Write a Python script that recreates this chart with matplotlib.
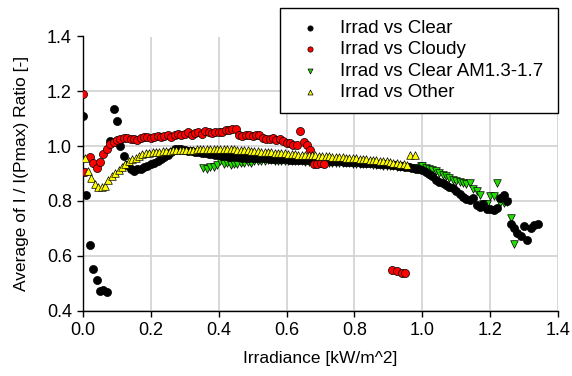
import matplotlib
matplotlib.use("Agg")
import matplotlib.pyplot as plt

plt.rcParams['font.family'] = ['Liberation Sans', 'DejaVu Sans']

# ---- data ----
clear_x = [0.00, 0.01, 0.02, 0.03, 0.04, 0.05, 0.06, 0.07, 0.08, 0.09, 0.10, 0.11, 0.12, 0.13, 0.14,
           0.15, 0.16, 0.17, 0.18, 0.19, 0.20, 0.21, 0.22, 0.23, 0.24, 0.25, 0.26, 0.27, 0.28, 0.29,
           0.30, 0.31, 0.32, 0.33, 0.34, 0.35, 0.36, 0.37, 0.38, 0.39, 0.40, 0.41, 0.42, 0.43, 0.44,
           0.45, 0.46, 0.47, 0.48, 0.49, 0.50, 0.51, 0.52, 0.53, 0.54, 0.55, 0.56, 0.57, 0.58, 0.59,
           0.60, 0.61, 0.62, 0.63, 0.64, 0.65, 0.66, 0.67, 0.68, 0.69, 0.70, 0.71, 0.72, 0.73, 0.74,
           0.75, 0.76, 0.77, 0.78, 0.79, 0.80, 0.81, 0.82, 0.83, 0.84, 0.85, 0.86, 0.87, 0.88, 0.89,
           0.90, 0.91, 0.92, 0.93, 0.94, 0.95, 0.96, 0.97, 0.98, 0.99, 1.00, 1.01, 1.02, 1.03, 1.04,
           1.05, 1.06, 1.07, 1.08, 1.09, 1.10, 1.11, 1.12, 1.13, 1.14, 1.15, 1.16, 1.17, 1.18, 1.19,
           1.20, 1.21, 1.22, 1.23, 1.24, 1.25, 1.26, 1.27, 1.28, 1.29, 1.30, 1.31, 1.32, 1.33, 1.34]
clear_y = [1.110, 0.820, 0.640, 0.550, 0.510, 0.470, 0.475, 0.468, 1.020, 1.135, 1.090, 1.000, 0.965, 0.930, 0.915,
           0.910, 0.915, 0.918, 0.922, 0.928, 0.933, 0.940, 0.945, 0.952, 0.960, 0.968, 0.978, 0.988, 0.990, 0.988,
           0.985, 0.983, 0.982, 0.980, 0.978, 0.976, 0.974, 0.972, 0.970, 0.968, 0.966, 0.965, 0.963, 0.962, 0.961,
           0.960, 0.959, 0.958, 0.958, 0.957, 0.957, 0.956, 0.956, 0.955, 0.955, 0.954, 0.954, 0.953, 0.953, 0.952,
           0.952, 0.951, 0.951, 0.950, 0.950, 0.949, 0.949, 0.948, 0.948, 0.947, 0.947, 0.946, 0.946, 0.945, 0.945,
           0.944, 0.944, 0.943, 0.943, 0.942, 0.942, 0.941, 0.940, 0.940, 0.939, 0.938, 0.937, 0.936, 0.935, 0.934,
           0.933, 0.932, 0.930, 0.929, 0.927, 0.925, 0.923, 0.921, 0.918, 0.915, 0.912, 0.906, 0.899, 0.890, 0.878,
           0.870, 0.864, 0.858, 0.852, 0.848, 0.835, 0.825, 0.813, 0.808, 0.803, 0.810, 0.785, 0.778, 0.790, 0.772,
           0.770, 0.765, 0.775, 0.810, 0.820, 0.800, 0.715, 0.700, 0.684, 0.672, 0.709, 0.656, 0.700, 0.712, 0.716]

cloudy_x = [0.000, 0.005, 0.02, 0.03, 0.04, 0.05, 0.06, 0.07, 0.08, 0.09, 0.10, 0.11, 0.12, 0.13, 0.14,
            0.15, 0.16, 0.17, 0.18, 0.19, 0.20, 0.21, 0.22, 0.23, 0.24, 0.25, 0.26, 0.27, 0.28, 0.29,
            0.30, 0.31, 0.32, 0.33, 0.34, 0.35, 0.36, 0.37, 0.38, 0.39, 0.40, 0.41, 0.42, 0.43, 0.44,
            0.45, 0.46, 0.47, 0.48, 0.49, 0.50, 0.51, 0.52, 0.53, 0.54, 0.55, 0.56, 0.57, 0.58, 0.59,
            0.60, 0.61, 0.62, 0.63, 0.64, 0.65, 0.66, 0.67, 0.68, 0.69, 0.70, 0.71,
            0.91, 0.925, 0.94, 0.95]
cloudy_y = [1.190, 0.905, 0.962, 0.938, 0.921, 0.941, 0.970, 0.990, 1.006, 1.015, 1.021, 1.025, 1.028, 1.030, 1.027,
            1.025, 1.022, 1.030, 1.033, 1.035, 1.030, 1.033, 1.036, 1.033, 1.038, 1.040, 1.035, 1.040, 1.045, 1.040,
            1.045, 1.050, 1.042, 1.048, 1.050, 1.045, 1.055, 1.050, 1.048, 1.050, 1.052, 1.050, 1.058, 1.060, 1.062,
            1.062, 1.040, 1.038, 1.040, 1.040, 1.038, 1.042, 1.040, 1.030, 1.027, 1.025, 1.030, 1.021, 1.025, 1.018,
            1.012, 1.010, 1.005, 1.003, 1.054, 1.015, 1.003, 0.984, 0.935, 0.935, 0.938, 0.935,
            0.548, 0.544, 0.538, 0.538]

am_x = [0.355, 0.365, 0.375, 0.385, 0.395, 0.405, 0.415, 0.425, 0.435, 0.445, 0.455, 0.465, 0.475, 0.485, 0.495,
        0.505, 0.515, 0.525, 0.535, 0.545, 0.555, 0.565, 0.575, 0.585, 0.595, 0.605, 0.615, 0.625, 0.635, 0.645,
        0.655, 0.665, 0.675, 0.685, 0.695, 0.705, 0.715, 0.725, 0.735, 0.745, 0.755, 0.765, 0.775, 0.785, 0.795,
        0.805, 0.815, 0.825, 0.835, 0.845, 0.855, 0.865, 0.875, 0.885, 0.895, 0.905, 0.915, 0.925, 0.935, 0.945,
        0.955, 0.965, 0.975, 0.985, 0.995, 1.00, 1.01, 1.02, 1.03, 1.04, 1.05, 1.06, 1.07, 1.08, 1.09,
        1.10, 1.11, 1.12, 1.13, 1.14, 1.15, 1.16, 1.17, 1.18, 1.19, 1.20, 1.21, 1.22, 1.23, 1.24,
        1.25, 1.26, 1.27]
am_y = [0.920, 0.918, 0.922, 0.925, 0.930, 0.944, 0.936, 0.940, 0.930, 0.936, 0.934, 0.940, 0.937, 0.943, 0.940,
        0.944, 0.945, 0.946, 0.947, 0.948, 0.948, 0.947, 0.947, 0.946, 0.946, 0.946, 0.945, 0.945, 0.944, 0.944,
        0.943, 0.943, 0.942, 0.942, 0.941, 0.941, 0.940, 0.940, 0.939, 0.939, 0.938, 0.938, 0.937, 0.937, 0.936,
        0.936, 0.935, 0.934, 0.934, 0.933, 0.932, 0.931, 0.930, 0.929, 0.928, 0.927, 0.926, 0.925, 0.924, 0.923,
        0.922, 0.921, 0.920, 0.919, 0.927, 0.926, 0.921, 0.916, 0.912, 0.908, 0.900, 0.895, 0.890, 0.882, 0.877,
        0.872, 0.868, 0.864, 0.862, 0.866, 0.845, 0.835, 0.823, 0.790, 0.787, 0.819, 0.819, 0.866, 0.792, 0.792,
        0.797, 0.739, 0.642]

other_x = [0.005, 0.015, 0.025, 0.035, 0.045, 0.055, 0.065, 0.075, 0.085, 0.095, 0.105, 0.115, 0.125, 0.135, 0.145,
           0.155, 0.165, 0.175, 0.185, 0.195, 0.205, 0.215, 0.225, 0.235, 0.245, 0.255, 0.265, 0.275, 0.285, 0.295,
           0.305, 0.315, 0.325, 0.335, 0.345, 0.355, 0.365, 0.375, 0.385, 0.395, 0.405, 0.415, 0.425, 0.435, 0.445,
           0.455, 0.465, 0.475, 0.485, 0.495, 0.505, 0.515, 0.525, 0.535, 0.545, 0.555, 0.565, 0.575, 0.585, 0.595,
           0.605, 0.615, 0.625, 0.635, 0.645, 0.655, 0.665, 0.675, 0.685, 0.695, 0.705, 0.715, 0.725, 0.735, 0.745,
           0.755, 0.765, 0.775, 0.785, 0.795, 0.805, 0.815, 0.825, 0.835, 0.845, 0.855, 0.865, 0.875, 0.885, 0.895,
           0.905, 0.915, 0.925, 0.935, 0.945, 0.955, 0.965, 0.978]
other_y = [0.955, 0.910, 0.885, 0.860, 0.850, 0.851, 0.855, 0.875, 0.890, 0.900, 0.913, 0.925, 0.935, 0.945, 0.952,
           0.958, 0.963, 0.970, 0.974, 0.976, 0.978, 0.979, 0.980, 0.981, 0.982, 0.983, 0.984, 0.985, 0.985, 0.986,
           0.986, 0.987, 0.987, 0.988, 0.988, 0.989, 0.989, 0.989, 0.990, 0.990, 0.990, 0.990, 0.989, 0.989, 0.988,
           0.987, 0.986, 0.985, 0.984, 0.983, 0.982, 0.981, 0.980, 0.979, 0.978, 0.977, 0.976, 0.975, 0.974, 0.973,
           0.972, 0.971, 0.970, 0.969, 0.968, 0.967, 0.967, 0.966, 0.966, 0.965, 0.965, 0.964, 0.963, 0.962, 0.961,
           0.960, 0.959, 0.958, 0.957, 0.956, 0.955, 0.954, 0.953, 0.952, 0.951, 0.950, 0.949, 0.947, 0.946, 0.944,
           0.942, 0.940, 0.938, 0.936, 0.934, 0.931, 0.968, 0.966]

labels = ["Irrad vs Clear", "Irrad vs Cloudy", "Irrad vs Clear AM1.3-1.7", "Irrad vs Other"]
x_ticks = [0.0, 0.2, 0.4, 0.6, 0.8, 1.0, 1.2, 1.4]
y_ticks = [0.4, 0.6, 0.8, 1.0, 1.2, 1.4]

# ---- figure ----
fig = plt.figure(figsize=(5.72, 3.76), dpi=100)
ax = fig.add_axes([83/572, 1 - 310.5/376, (558 - 83)/572, (310.5 - 36.5)/376])

h_am = ax.scatter(am_x, am_y, s=30, marker='v', facecolor='#22dd00', edgecolor='black',
                  linewidths=0.5, zorder=3, label=labels[2])
h_clear = ax.scatter(clear_x, clear_y, s=34, marker='o', facecolor='black', edgecolor='black',
                     linewidths=0.5, zorder=4, label=labels[0])
h_cloudy = ax.scatter(cloudy_x, cloudy_y, s=34, marker='o', facecolor='#ff0000', edgecolor='black',
                      linewidths=0.5, zorder=5, label=labels[1])
h_other = ax.scatter(other_x, other_y, s=30, marker='^', facecolor='#ffff00', edgecolor='black',
                     linewidths=0.5, zorder=6, label=labels[3])

ax.set_xlim(0.0, 1.4)
ax.set_ylim(0.4, 1.4)
ax.set_xticks(x_ticks)
ax.set_yticks(y_ticks)
ax.set_xticklabels([f"{v:.1f}" for v in x_ticks])
ax.set_yticklabels([f"{v:.1f}" for v in y_ticks])
ax.grid(True, color='#d4d4d4', linewidth=1.3, zorder=0)
ax.set_axisbelow(True)
for side in ['top', 'right']:
    ax.spines[side].set_visible(False)
for side in ['left', 'bottom']:
    ax.spines[side].set_color('black')
    ax.spines[side].set_linewidth(1.0)
ax.tick_params(direction='out', length=4, width=1, labelsize=13, colors='black', pad=4)

ax.set_xlabel("Irradiance [kW/m^2]", fontsize=12.5, labelpad=9)
ax.set_ylabel("Average of I / I(Pmax) Ratio [-]", fontsize=12.5, labelpad=13)

leg = fig.legend(handles=[h_clear, h_cloudy, h_am, h_other], labels=labels,
                 loc='upper left', bbox_to_anchor=(280/572, 1 - 8/376, 278/572, 0.0),
                 mode='expand', fontsize=13.5, frameon=True, fancybox=False,
                 markerscale=0.65, borderpad=0.62, labelspacing=0.23,
                 handlelength=2.0, handletextpad=0.6, borderaxespad=0.0)
leg.get_frame().set_edgecolor('black')
leg.get_frame().set_linewidth(1.0)
leg.get_frame().set_facecolor('white')
leg.get_frame().set_alpha(1.0)

fig.savefig("out.png", dpi=100)
